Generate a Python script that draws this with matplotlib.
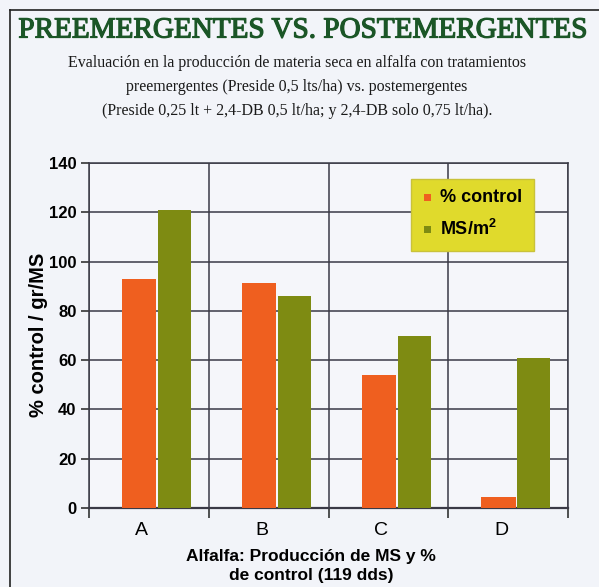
import matplotlib.pyplot as plt
import matplotlib.patheffects as pe
from matplotlib.lines import Line2D
from matplotlib.patches import Rectangle
import numpy as np

plt.rcParams['mathtext.fontset'] = 'custom'
plt.rcParams['mathtext.rm'] = 'Liberation Sans:bold'
plt.rcParams['mathtext.it'] = 'Liberation Sans:bold'
plt.rcParams['mathtext.bf'] = 'Liberation Sans:bold'

# data
categories = ['A', 'B', 'C', 'D']
control = [93, 91.5, 54, 4.5]
ms_m2 = [121, 86, 70, 61]
yticks = [0, 20, 40, 60, 80, 100, 120, 140]
series_names = ['% control', 'MS/m$^{2}$']

W, H = 599, 587
fig = plt.figure(figsize=(W / 100, H / 100), dpi=100)
fig.patch.set_facecolor('#f2f4f9')

# axes box in pixels: left 89, right 568, top 163, bottom 508
ax = fig.add_axes([89 / W, 1 - 508 / H, (568 - 89) / W, (508 - 163) / H])
ax.set_facecolor('#f5f6fa')

x = np.arange(len(categories))
orange = '#ef5f1f'
olive = '#7e8b12'
ax.bar(x + 0.42, control, width=0.285, color=orange, align='center', zorder=3)
ax.bar(x + 0.715, ms_m2, width=0.275, color=olive, align='center', zorder=3)

ax.set_xlim(0, 4)
ax.set_ylim(0, 140)
ax.set_yticks(yticks)
ax.set_yticklabels([str(t) for t in yticks], fontfamily='Liberation Sans',
                   fontweight='bold', fontsize=12)
ax.set_xticks([0, 1, 2, 3, 4])
ax.set_xticklabels([])
ax.set_xticks(x + 0.44, minor=True)
ax.set_xticklabels(categories, minor=True, fontfamily='Liberation Sans', fontsize=14)
ax.tick_params(axis='x', which='minor', length=0, pad=10)
ax.tick_params(axis='x', which='major', length=7, width=1.2, color='#333333')
ax.tick_params(axis='y', length=6, width=1.2, color='#333333', pad=3)

ax.grid(True, which='major', color='#3a3a46', linewidth=1.1, zorder=1)
for s in ax.spines.values():
    s.set_color('#3a3a46')
    s.set_linewidth(1.1)
ax.spines['bottom'].set_linewidth(1.6)

fig.text(39 / W, 1 - 335 / H, '% control / gr/MS', rotation=90, ha='center',
         va='center', fontfamily='Liberation Sans', fontweight='bold', fontsize=14.5)

# legend box drawn by hand (axes fraction coords)
lx0, lx1 = (411 - 89) / 479, (534 - 89) / 479
ly0, ly1 = 1 - (251 - 163) / 345, 1 - (179 - 163) / 345
ax.add_patch(Rectangle((lx0, ly0), lx1 - lx0, ly1 - ly0, transform=ax.transAxes,
                       facecolor='#e0da2c', edgecolor='#c9c23a', lw=1, zorder=5))
for i, (name, col) in enumerate(zip(series_names, [orange, olive])):
    yy = 1 - (197 + 32 * i - 163) / 345
    ax.add_patch(Rectangle(((424 - 89) / 479, yy - 0.012), 7 / 479, 7 / 345,
                           transform=ax.transAxes, facecolor=col, edgecolor='none',
                           zorder=6))
    ax.text((440 - 89) / 479, yy, name, transform=ax.transAxes, ha='left',
            va='center', fontfamily='Liberation Sans', fontweight='bold',
            fontsize=13, zorder=7)

fig.text(311 / W, 1 - 566 / H, 'Alfalfa: Producción de MS y %\nde control (119 dds)',
         ha='center', va='center', fontfamily='Liberation Sans', fontweight='bold',
         fontsize=12.5, linespacing=1.35)

# titles
title_col = '#1b5627'
fig.text(302 / W, 1 - 37.5 / H, 'PREEMERGENTES VS. POSTEMERGENTES', ha='center',
         va='baseline', fontfamily='Liberation Serif', fontsize=21, color=title_col,
         path_effects=[pe.withStroke(linewidth=0.9, foreground=title_col)])
subtitle = ['Evaluación en la producción de materia seca en alfalfa con tratamientos',
            'preemergentes (Preside 0,5 lts/ha) vs. postemergentes',
            '(Preside 0,25 lt + 2,4-DB 0,5 lt/ha; y 2,4-DB solo 0,75 lt/ha).']
for i, line in enumerate(subtitle):
    fig.text(297 / W, 1 - (67 + 24 * i) / H, line, ha='center', va='baseline',
             fontfamily='Liberation Serif', fontsize=11.5, color='#1a1a1a')

# page frame
fig.add_artist(Line2D([9.5 / W, 9.5 / W], [0, 1 - 9.5 / H], color='#222222', lw=1.2))
fig.add_artist(Line2D([9.5 / W, 1], [1 - 9.5 / H, 1 - 9.5 / H], color='#222222', lw=1.2))

fig.savefig('out.png', dpi=100, facecolor=fig.get_facecolor())
